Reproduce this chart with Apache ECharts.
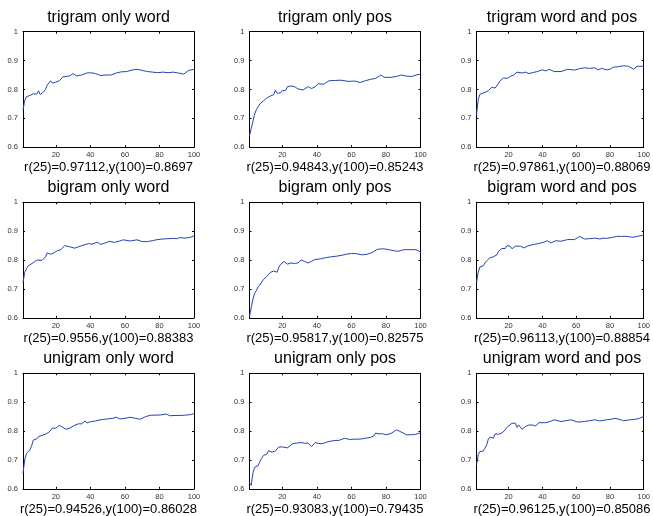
<!DOCTYPE html>
<html>
<head>
<meta charset="utf-8">
<script src="https://cdn.jsdelivr.net/npm/echarts@6/dist/echarts.min.js"></script>
<style>
html,body{margin:0;padding:0;background:#fff;}
#chart{width:653px;height:516px;}
</style>
</head>
<body>
<div id="chart"></div>
<script>
const titles = ['trigram only word','trigram only pos','trigram word and pos',
                'bigram only word','bigram only pos','bigram word and pos',
                'unigram only word','unigram only pos','unigram word and pos'];
const notes = ['r(25)=0.97112,y(100)=0.8697','r(25)=0.94843,y(100)=0.85243','r(25)=0.97861,y(100)=0.88069',
               'r(25)=0.9556,y(100)=0.88383','r(25)=0.95817,y(100)=0.82575','r(25)=0.96113,y(100)=0.88854',
               'r(25)=0.94526,y(100)=0.86028','r(25)=0.93083,y(100)=0.79435','r(25)=0.96125,y(100)=0.85086'];
const xTicks = [20,40,60,80,100];
const yTicks = [0.6,0.7,0.8,0.9,1];

const trigramOnlyWord = [[1,0.728],[2,0.762],[3,0.775],[4,0.776],[5,0.779],[6,0.781],[7,0.785],[8,0.788],[9,0.784],[10,0.795],[11,0.782],[12,0.786],[13,0.792],[14,0.80],[15,0.815],[16,0.817],[17,0.83],[18,0.822],[20,0.825],[22,0.83],[24,0.843],[26,0.845],[28,0.847],[30,0.855],[32,0.847],[33,0.842],[35,0.85],[38,0.857],[40,0.858],[43,0.855],[46,0.848],[49,0.85],[52,0.85],[55,0.857],[58,0.861],[61,0.862],[64,0.867],[67,0.87],[70,0.866],[73,0.862],[76,0.86],[79,0.858],[82,0.86],[85,0.858],[88,0.86],[91,0.857],[94,0.853],[97,0.866],[100,0.8697]];
const trigramOnlyPos = [[1,0.64],[2,0.665],[3,0.69],[4,0.715],[5,0.73],[6,0.74],[7,0.75],[8,0.755],[9,0.76],[10,0.766],[11,0.77],[12,0.772],[13,0.777],[14,0.78],[15,0.782],[16,0.797],[17,0.787],[18,0.785],[19,0.788],[20,0.796],[21,0.79],[22,0.797],[23,0.81],[25,0.812],[27,0.81],[29,0.802],[32,0.798],[35,0.81],[37,0.803],[39,0.81],[41,0.82],[44,0.818],[47,0.83],[50,0.831],[54,0.832],[58,0.828],[62,0.829],[65,0.824],[68,0.83],[71,0.835],[74,0.838],[77,0.85],[79,0.842],[83,0.842],[86,0.845],[89,0.85],[92,0.846],[95,0.845],[98,0.851],[100,0.8524]];
const trigramWordPos = [[1,0.712],[2,0.765],[3,0.783],[4,0.788],[6,0.79],[8,0.796],[10,0.807],[12,0.805],[13,0.812],[15,0.83],[17,0.84],[18,0.845],[19,0.838],[21,0.845],[23,0.85],[25,0.86],[26,0.855],[28,0.857],[30,0.86],[32,0.855],[34,0.858],[37,0.862],[40,0.868],[42,0.864],[44,0.87],[47,0.862],[51,0.862],[55,0.87],[59,0.867],[62,0.872],[65,0.875],[68,0.873],[71,0.875],[73,0.868],[75,0.873],[78,0.868],[80,0.87],[82,0.877],[85,0.879],[88,0.882],[91,0.88],[94,0.87],[96,0.88],[97,0.875],[100,0.8807]];
const bigramOnlyWord = [[1,0.722],[2,0.757],[3,0.77],[4,0.78],[5,0.785],[7,0.791],[9,0.8],[10,0.805],[12,0.799],[14,0.811],[15,0.825],[17,0.82],[19,0.825],[21,0.833],[23,0.836],[25,0.85],[28,0.846],[31,0.841],[33,0.846],[35,0.85],[39,0.857],[41,0.855],[44,0.862],[46,0.854],[49,0.86],[51,0.865],[54,0.861],[57,0.866],[59,0.87],[63,0.866],[67,0.87],[70,0.864],[73,0.864],[76,0.867],[78,0.87],[82,0.873],[85,0.874],[88,0.875],[90,0.874],[92,0.878],[94,0.876],[96,0.877],[98,0.879],[100,0.8838]];
const bigramOnlyPos = [[1,0.605],[2,0.635],[3,0.665],[4,0.685],[5,0.695],[6,0.707],[7,0.714],[8,0.718],[9,0.732],[10,0.736],[11,0.743],[12,0.75],[13,0.757],[14,0.758],[15,0.762],[16,0.768],[17,0.758],[18,0.775],[19,0.785],[20,0.788],[21,0.795],[22,0.798],[23,0.786],[25,0.79],[27,0.788],[29,0.79],[31,0.8],[33,0.795],[35,0.79],[37,0.796],[39,0.802],[42,0.804],[45,0.808],[48,0.811],[51,0.813],[54,0.816],[57,0.82],[60,0.823],[63,0.822],[66,0.818],[69,0.82],[72,0.826],[75,0.837],[78,0.839],[81,0.837],[83,0.834],[85,0.832],[87,0.83],[89,0.834],[91,0.836],[94,0.836],[97,0.836],[99,0.832],[100,0.8258]];
const bigramWordPos = [[1,0.722],[2,0.757],[3,0.776],[4,0.778],[5,0.78],[6,0.79],[7,0.797],[9,0.808],[10,0.811],[11,0.811],[12,0.805],[13,0.818],[14,0.83],[15,0.836],[16,0.84],[17,0.842],[18,0.84],[19,0.85],[20,0.846],[21,0.848],[22,0.839],[24,0.848],[25,0.853],[27,0.848],[29,0.842],[31,0.848],[34,0.853],[36,0.855],[39,0.859],[41,0.862],[43,0.867],[45,0.859],[48,0.867],[51,0.865],[55,0.871],[59,0.871],[62,0.882],[65,0.873],[68,0.874],[71,0.876],[74,0.873],[76,0.876],[78,0.875],[81,0.878],[84,0.882],[87,0.882],[90,0.882],[92,0.88],[94,0.879],[96,0.882],[99,0.885],[100,0.8885]];
const unigramOnlyWord = [[1,0.654],[2,0.70],[3,0.722],[4,0.728],[5,0.735],[6,0.749],[7,0.769],[8,0.77],[9,0.773],[10,0.781],[11,0.778],[12,0.785],[14,0.789],[16,0.796],[18,0.81],[20,0.81],[21,0.813],[22,0.82],[24,0.813],[26,0.806],[28,0.81],[29,0.816],[31,0.82],[33,0.825],[35,0.825],[37,0.835],[38,0.828],[40,0.832],[43,0.835],[45,0.838],[47,0.84],[50,0.842],[53,0.844],[55,0.848],[57,0.842],[58,0.839],[60,0.844],[63,0.848],[66,0.844],[69,0.841],[72,0.85],[75,0.855],[78,0.855],[81,0.856],[84,0.859],[86,0.853],[89,0.854],[92,0.854],[95,0.855],[98,0.857],[100,0.8603]];
const unigramOnlyPos = [[1,0.62],[2,0.612],[3,0.655],[4,0.675],[5,0.677],[6,0.68],[7,0.695],[8,0.705],[9,0.715],[10,0.71],[11,0.72],[12,0.732],[13,0.728],[14,0.727],[16,0.731],[17,0.733],[18,0.745],[19,0.749],[20,0.745],[21,0.74],[23,0.742],[24,0.743],[26,0.756],[28,0.758],[31,0.76],[33,0.758],[35,0.758],[37,0.746],[39,0.76],[41,0.757],[43,0.756],[45,0.76],[47,0.764],[50,0.767],[53,0.768],[56,0.775],[59,0.771],[62,0.772],[65,0.772],[68,0.775],[71,0.778],[73,0.783],[74,0.793],[76,0.79],[78,0.791],[80,0.787],[81,0.781],[83,0.792],[86,0.804],[88,0.799],[90,0.793],[92,0.787],[94,0.787],[97,0.788],[100,0.7944]];
const unigramWordPos = [[1,0.683],[2,0.718],[3,0.729],[5,0.731],[6,0.74],[7,0.752],[8,0.772],[9,0.779],[10,0.781],[11,0.775],[12,0.79],[14,0.789],[16,0.793],[18,0.804],[19,0.813],[20,0.81],[22,0.827],[24,0.827],[25,0.813],[26,0.821],[28,0.806],[30,0.816],[32,0.821],[34,0.821],[36,0.818],[38,0.829],[42,0.829],[45,0.834],[47,0.839],[51,0.833],[54,0.836],[57,0.839],[61,0.831],[65,0.833],[68,0.836],[71,0.839],[74,0.835],[78,0.839],[81,0.841],[83,0.844],[86,0.84],[88,0.836],[92,0.839],[95,0.841],[97,0.843],[100,0.8509]];

const seriesData = [trigramOnlyWord, trigramOnlyPos, trigramWordPos,
                    bigramOnlyWord, bigramOnlyPos, bigramWordPos,
                    unigramOnlyWord, unigramOnlyPos, unigramWordPos];

const colLeft = [23, 249.5, 476.5];
const rowTop = [31.7, 202.3, 373.3];
const plotW = 171, plotH = 115.5;
const FONT = '"Liberation Sans", Arial, Helvetica, sans-serif';

const grid = [], xAxis = [], yAxis = [], series = [], graphic = [];
const lineStyle = {color: '#000', width: 1};
for (let i = 0; i < 9; i++) {
  const r = Math.floor(i / 3), c = i % 3;
  const L = colLeft[c], T = rowTop[r];
  grid.push({left: L, top: T, width: plotW, height: plotH, containLabel: false});
  const xb = {
    type: 'value', gridIndex: i, min: 1, max: 100, position: 'bottom',
    axisLine: {show: true, onZero: false, lineStyle},
    axisTick: {show: true, inside: true, length: 2, customValues: xTicks, lineStyle},
    axisLabel: {show: true, customValues: xTicks, fontSize: 7.5, color: '#333', margin: 4, fontFamily: FONT},
    splitLine: {show: false}
  };
  const xt = {
    type: 'value', gridIndex: i, min: 1, max: 100, position: 'top',
    axisLine: {show: true, onZero: false, lineStyle},
    axisTick: {show: true, inside: true, length: 2, customValues: xTicks, lineStyle},
    axisLabel: {show: false}, splitLine: {show: false}
  };
  const yl = {
    type: 'value', gridIndex: i, min: 0.6, max: 1, position: 'left',
    axisLine: {show: true, onZero: false, lineStyle},
    axisTick: {show: true, inside: true, length: 2, customValues: yTicks, lineStyle},
    axisLabel: {show: true, customValues: yTicks, fontSize: 7.5, color: '#333', margin: 5, fontFamily: FONT,
                formatter: v => String(Math.round(v * 10) / 10)},
    splitLine: {show: false}
  };
  const yr = {
    type: 'value', gridIndex: i, min: 0.6, max: 1, position: 'right',
    axisLine: {show: true, onZero: false, lineStyle},
    axisTick: {show: true, inside: true, length: 2, customValues: yTicks, lineStyle},
    axisLabel: {show: false}, splitLine: {show: false}
  };
  xAxis.push(xb, xt);
  yAxis.push(yl, yr);
  series.push({
    type: 'line', xAxisIndex: 2 * i, yAxisIndex: 2 * i, data: seriesData[i],
    showSymbol: false, symbol: 'none', animation: false,
    lineStyle: {color: '#2544b0', width: 1}
  });
  graphic.push({
    type: 'text', x: L + plotW / 2, y: T - 14.5,
    style: {text: titles[i], fill: '#000', font: '16px ' + FONT, textAlign: 'center', textVerticalAlign: 'middle'}
  });
  graphic.push({
    type: 'text', x: L + plotW / 2, y: T + plotH + 20.5,
    style: {text: notes[i], fill: '#000', font: '13px ' + FONT, textAlign: 'center', textVerticalAlign: 'middle'}
  });
}

const chart = echarts.init(document.getElementById('chart'), null, {renderer: 'canvas'});
chart.setOption({
  backgroundColor: '#fff',
  animation: false,
  grid, xAxis, yAxis, series, graphic
});
</script>
</body>
</html>
